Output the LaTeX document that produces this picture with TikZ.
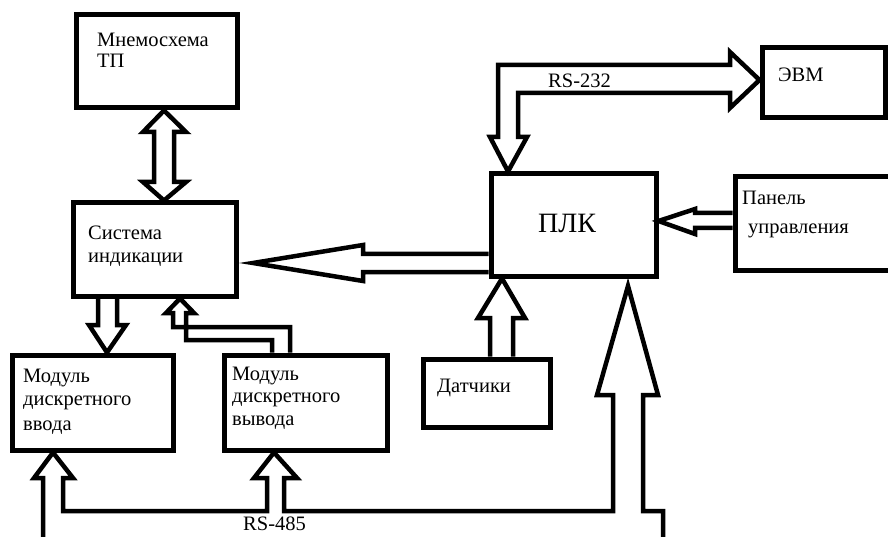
\documentclass[tikz,border=0pt]{standalone}
\usepackage{fontspec}
\setmainfont{Liberation Serif}
\tikzset{
	box/.style={draw, line width=5pt, inner sep=0pt},
	pipe/.style={draw, line width=4.5pt, line join=miter},
	txt/.style={anchor=base west, inner sep=0pt, font=\fontsize{20.5}{24}\selectfont}
}
\begin{document}
\begin{tikzpicture}[x=1pt,y=-1pt]
	\useasboundingbox (0,0) rectangle (888,537);
	\clip (0,0) rectangle (888,537);

	% blocks
	\node[box, minimum width=161pt, minimum height=93pt](mnemo) at (156.5,61.5) {};
	\node[box, minimum width=163pt, minimum height=93pt](sysind) at (154.5,249.5) {};
	\node[box, minimum width=161pt, minimum height=95pt](modin) at (92.5,402.5) {};
	\node[box, minimum width=163pt, minimum height=95pt](modout) at (305.5,402.5) {};
	\node[box, minimum width=165pt, minimum height=102pt](plc) at (573.5,225) {};
	\node[box, minimum width=127pt, minimum height=68pt](sens) at (486.5,393) {};
	\node[box, minimum width=123pt, minimum height=70pt](evm) at (823.5,83) {};
	\node[box, minimum width=175pt, minimum height=93pt](panel) at (822.5,223.5) {};

	% texts
	\node[txt](mnemo1) at (97,47) {Мнемосхема};
	\node[txt](mnemo2) at (97,68) {ТП};
	\node[txt](sysind1) at (88,240) {Система};
	\node[txt](sysind2) at (88,262) {индикации};
	\node[txt](modin1) at (23,382) {Модуль};
	\node[txt](modin2) at (23,405) {дискретного};
	\node[txt](modin3) at (23,430) {ввода};
	\node[txt](modout1) at (232,380) {Модуль};
	\node[txt](modout2) at (232,402) {дискретного};
	\node[txt](modout3) at (232,425) {вывода};
	\node[txt](sens1) at (437,392) {Датчики};
	\node[anchor=base, inner sep=0pt, font=\fontsize{28}{32}\selectfont](plc1) at (567,233) {ПЛК};
	\node[txt](evm1) at (778,82) {ЭВМ};
	\node[txt](panel1) at (742,205) {Панель};
	\node[txt](panel2) at (748,234) {управления};
	\node[txt](rs232) at (548,88) {RS-232};
	\node[txt](rs485) at (243,530) {RS-485};

	% hollow arrows
	\draw[pipe] (164,0 |- mnemo.south) -- (186,132) -- (174,132) -- (174,182) -- (186,182)
		-- (164,0 |- sysind.north) -- (143,182) -- (154,182) -- (154,132) -- (143,132) -- cycle;
	\draw[pipe] (plc.west |- 0,254) -- (363,254) -- (363,245) -- (253,263)
		-- (363,281) -- (363,272) -- (plc.west |- 0,272);
	\draw[pipe] (98,0 |- sysind.south) -- (98,325) -- (89,325) -- (107,0 |- modin.north)
		-- (126,325) -- (117,325) -- (117,0 |- sysind.south);
	\draw[pipe] (272,0 |- modout.north) -- (272,340) -- (186,340) -- (186,313) -- (194,313)
		-- (180,0 |- sysind.south) -- (166,313) -- (173,313) -- (173,327) -- (290,327)
		-- (290,0 |- modout.north);
	\draw[pipe] (490,0 |- sens.north) -- (490,318) -- (478,318) -- (502,0 |- plc.south)
		-- (525,318) -- (513,318) -- (513,0 |- sens.north);
	\draw[pipe] (panel.west |- 0,213) -- (695,213) -- (695,209) -- (plc.east |- 0,221)
		-- (695,234) -- (695,228) -- (panel.west |- 0,228);

	% RS-232
	\draw[pipe] (498,65) -- (730,65) -- (730,52) -- (evm.west |- 0,80) -- (730,108)
		-- (730,93) -- (518,93) -- (518,137) -- (527,137) -- (508,0 |- plc.north)
		-- (490,137) -- (498,137) -- cycle;

	% RS-485
	\draw[pipe] (43,560) -- (43,478) -- (34,478) -- (53,0 |- modin.south) -- (73,478)
		-- (63,478) -- (63,511) -- (267,511) -- (267,478) -- (254,478)
		-- (274,0 |- modout.south) -- (297,478) -- (284,478) -- (284,511) -- (613,511)
		-- (613,395) -- (597,395) -- (628,286) -- (658,395) -- (643,395) -- (643,511)
		-- (663,511) -- (663,560);
\end{tikzpicture}
\end{document}
